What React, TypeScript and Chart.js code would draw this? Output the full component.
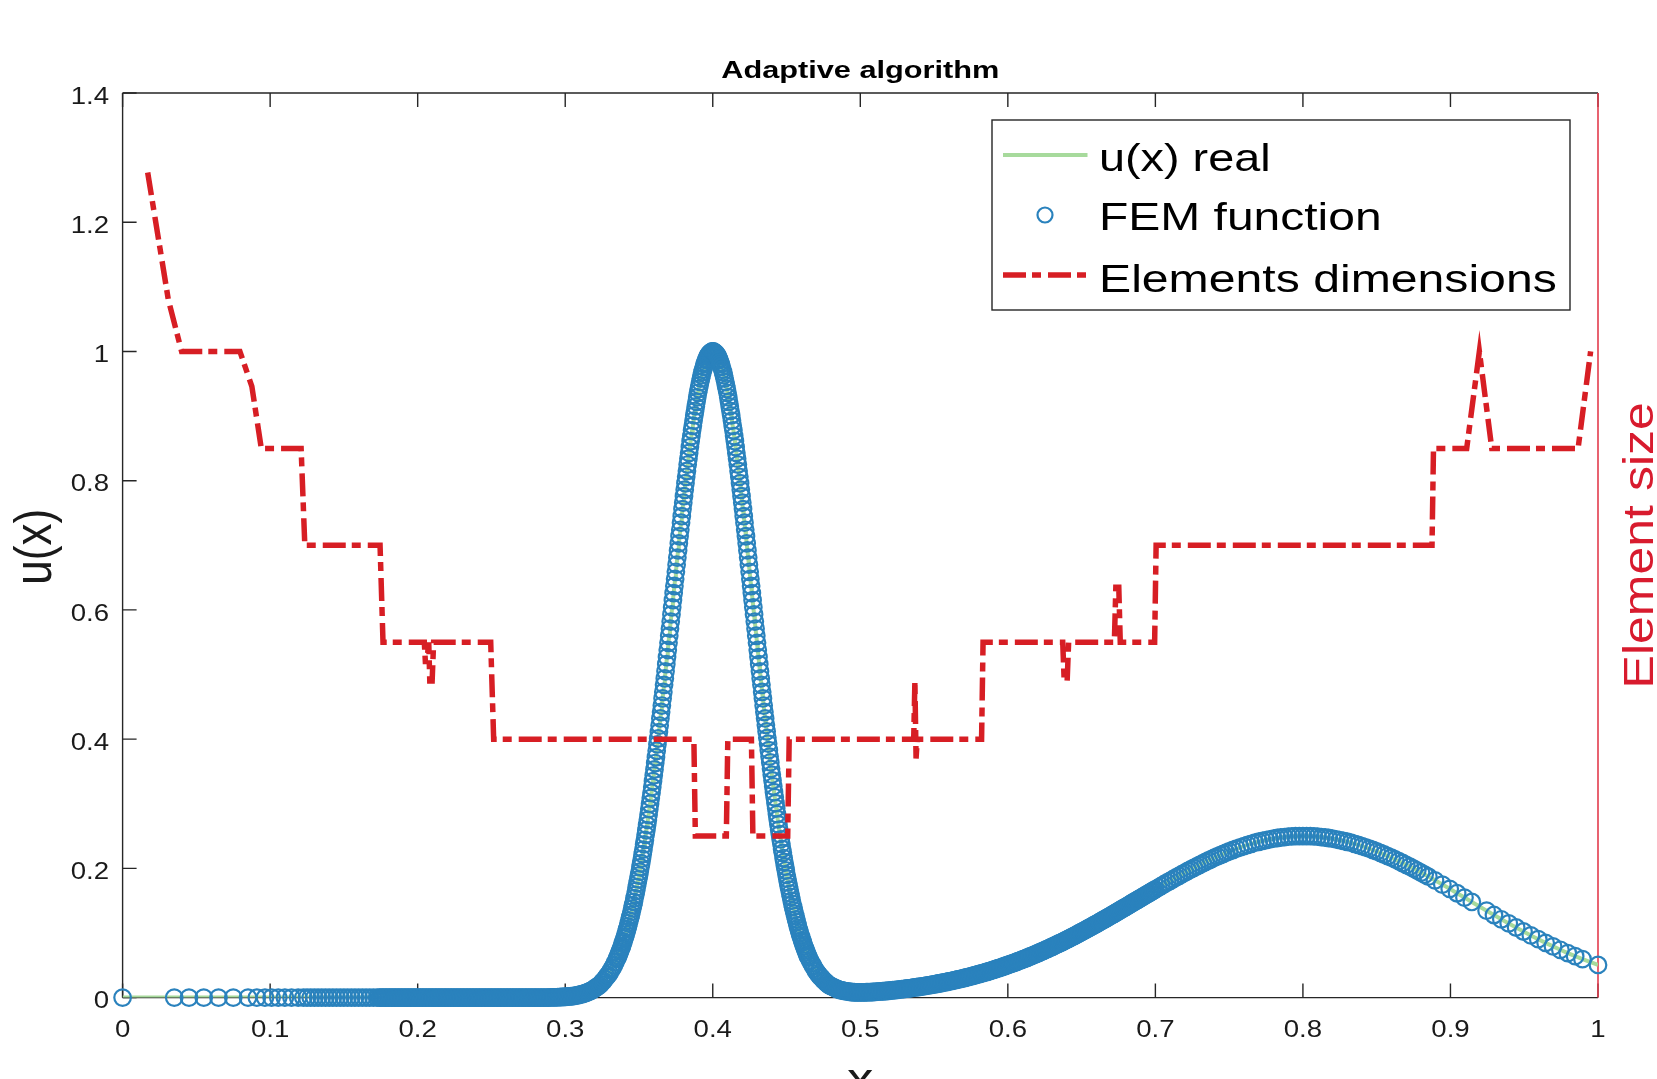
import React, { useEffect, useRef } from "react";
import { Chart, registerables } from "chart.js";

Chart.register(...registerables);

// ---------------- data ----------------
const xTickValues = [0, 0.1, 0.2, 0.3, 0.4, 0.5, 0.6, 0.7, 0.8, 0.9, 1];
const xTickLabels = ["0", "0.1", "0.2", "0.3", "0.4", "0.5", "0.6", "0.7", "0.8", "0.9", "1"];
const yTickValues = [0, 0.2, 0.4, 0.6, 0.8, 1, 1.2, 1.4];
const yTickLabels = ["0", "0.2", "0.4", "0.6", "0.8", "1", "1.2", "1.4"];

const chartTitle = "Adaptive algorithm";
const xAxisLabel = "x";
const yAxisLabel = "u(x)";
const y2AxisLabel = "Element size";
const seriesNames = ["u(x) real", "FEM function", "Elements dimensions"];

// FEM nodes and values: flat left part
const femLeft: number[][] = [
  [0, 0], [0.035, 0], [0.045, 0], [0.055, 0], [0.065, 0], [0.075, 0], [0.085, 0],
  [0.091, 0], [0.0965, 0], [0.101, 0], [0.1055, 0], [0.11, 0], [0.1145, 0], [0.119, 0],
  [0.1225, 0], [0.125, 0], [0.1275, 0], [0.13, 0], [0.1325, 0], [0.135, 0], [0.1375, 0],
  [0.14, 0], [0.1425, 0], [0.145, 0], [0.1475, 0], [0.15, 0], [0.1525, 0], [0.155, 0],
  [0.1575, 0], [0.16, 0], [0.1625, 0], [0.165, 0], [0.1675, 0], [0.17, 0], [0.1725, 0],
  [0.174, 0], [0.175, 0], [0.176, 0], [0.177, 0], [0.178, 0], [0.179, 0], [0.18, 0], [0.181, 0], [0.182, 0], [0.183, 0],
  [0.184, 0], [0.185, 0], [0.186, 0], [0.187, 0], [0.188, 0], [0.189, 0], [0.19, 0], [0.191, 0], [0.192, 0], [0.193, 0],
  [0.194, 0], [0.195, 0], [0.196, 0], [0.197, 0], [0.198, 0], [0.199, 0], [0.2, 0], [0.201, 0], [0.202, 0], [0.203, 0],
  [0.204, 0], [0.205, 0], [0.206, 0], [0.207, 0], [0.208, 0], [0.209, 0], [0.21, 0], [0.211, 0], [0.212, 0], [0.213, 0],
  [0.214, 0], [0.215, 0], [0.216, 0], [0.217, 0], [0.218, 0], [0.219, 0], [0.22, 0], [0.221, 0], [0.222, 0], [0.223, 0],
  [0.224, 0], [0.225, 0], [0.226, 0], [0.227, 0], [0.228, 0], [0.229, 0], [0.23, 0], [0.231, 0], [0.232, 0], [0.233, 0],
  [0.234, 0], [0.235, 0], [0.236, 0], [0.237, 0], [0.238, 0], [0.239, 0], [0.24, 0], [0.241, 0], [0.242, 0], [0.243, 0],
  [0.244, 0], [0.245, 0], [0.246, 0], [0.247, 0], [0.248, 0], [0.249, 0], [0.25, 0], [0.251, 0], [0.252, 0], [0.253, 0],
  [0.254, 0], [0.255, 0], [0.256, 0], [0.257, 0], [0.258, 0], [0.259, 0], [0.26, 0], [0.261, 0], [0.262, 0], [0.263, 0],
  [0.264, 0], [0.265, 0], [0.266, 0], [0.267, 0], [0.268, 0], [0.269, 0], [0.27, 0], [0.271, 0], [0.272, 0], [0.273, 0],
  [0.274, 0], [0.275, 0], [0.276, 0], [0.277, 0], [0.278, 0], [0.279, 0], [0.28, 0], [0.281, 0], [0.282, 0], [0.283, 0],
  [0.284, 0], [0.285, 0], [0.286, 0], [0.287, 0], [0.288, 0], [0.289, 0],
  [0.29, 0.0003], [0.291, 0.0004], [0.292, 0.0004], [0.293, 0.0005], [0.294, 0.0005],
  [0.295, 0.0006], [0.296, 0.0008], [0.297, 0.0009], [0.298, 0.001], [0.299, 0.0011],
  [0.3, 0.0013], [0.301, 0.0015], [0.302, 0.0017], [0.303, 0.0019], [0.304, 0.0021],
  [0.305, 0.0024], [0.306, 0.0028], [0.307, 0.0031], [0.308, 0.0035], [0.309, 0.004],
  [0.31, 0.0045], [0.311, 0.0051], [0.312, 0.0057], [0.313, 0.0064], [0.314, 0.0072],
  [0.315, 0.0081], [0.316, 0.0091], [0.317, 0.0101], [0.318, 0.0113], [0.319, 0.0126],
];

// FEM nodes and values: the sharp peak near x = 0.4
const femPeak: number[][] = [
  [0.32, 0.014], [0.321, 0.016], [0.322, 0.017], [0.323, 0.019], [0.324, 0.021],
  [0.325, 0.024], [0.326, 0.026], [0.327, 0.029], [0.328, 0.032], [0.329, 0.035],
  [0.33, 0.038], [0.331, 0.042], [0.332, 0.046], [0.333, 0.05], [0.334, 0.055],
  [0.335, 0.06], [0.3355, 0.062], [0.336, 0.065], [0.3365, 0.068], [0.337, 0.071],
  [0.3375, 0.074], [0.338, 0.077], [0.3385, 0.08], [0.339, 0.084], [0.3395, 0.087],
  [0.34, 0.091], [0.3405, 0.094], [0.341, 0.098], [0.3415, 0.102], [0.342, 0.106],
  [0.3425, 0.11], [0.343, 0.115], [0.3435, 0.119], [0.344, 0.124], [0.3445, 0.128],
  [0.345, 0.133], [0.3455, 0.138], [0.346, 0.143], [0.3465, 0.148], [0.347, 0.154],
  [0.3475, 0.159], [0.348, 0.165], [0.3485, 0.171], [0.349, 0.177], [0.3495, 0.183],
  [0.35, 0.189], [0.3505, 0.195], [0.351, 0.202], [0.3515, 0.208], [0.352, 0.215],
  [0.3525, 0.222], [0.353, 0.229], [0.3535, 0.237], [0.354, 0.244], [0.3545, 0.252],
  [0.355, 0.259], [0.3555, 0.267], [0.356, 0.275], [0.3565, 0.283], [0.357, 0.292],
  [0.3575, 0.3], [0.358, 0.309], [0.3585, 0.317], [0.359, 0.326], [0.3595, 0.335],
  [0.36, 0.344], [0.3605, 0.353], [0.361, 0.363], [0.3615, 0.372], [0.362, 0.382],
  [0.3625, 0.392], [0.363, 0.401], [0.3635, 0.411], [0.364, 0.421], [0.3645, 0.432],
  [0.365, 0.442], [0.3655, 0.452], [0.366, 0.463], [0.3665, 0.473], [0.367, 0.484],
  [0.3675, 0.494], [0.368, 0.505], [0.3685, 0.516], [0.369, 0.527], [0.3695, 0.538],
  [0.37, 0.549], [0.3705, 0.56], [0.371, 0.571], [0.3715, 0.582], [0.372, 0.593],
  [0.3725, 0.604], [0.373, 0.615], [0.3735, 0.626], [0.374, 0.637], [0.3745, 0.648],
  [0.375, 0.659], [0.3755, 0.67], [0.376, 0.681], [0.3765, 0.692], [0.377, 0.703],
  [0.3775, 0.714], [0.378, 0.724], [0.3785, 0.735], [0.379, 0.745], [0.3795, 0.756],
  [0.38, 0.766], [0.3805, 0.776], [0.381, 0.786], [0.3815, 0.796], [0.382, 0.806],
  [0.3825, 0.815], [0.383, 0.825], [0.3835, 0.834], [0.384, 0.843], [0.3845, 0.852],
  [0.385, 0.861], [0.3855, 0.869], [0.386, 0.878], [0.3865, 0.885], [0.387, 0.893],
  [0.3875, 0.901], [0.388, 0.908], [0.3885, 0.915], [0.389, 0.922], [0.3895, 0.929],
  [0.39, 0.936], [0.3905, 0.942], [0.391, 0.947], [0.3915, 0.953], [0.392, 0.958],
  [0.3925, 0.963], [0.393, 0.968], [0.3935, 0.972], [0.394, 0.976], [0.3945, 0.98],
  [0.395, 0.983], [0.3955, 0.987], [0.396, 0.989], [0.3965, 0.992], [0.397, 0.994],
  [0.3975, 0.996], [0.398, 0.997], [0.3985, 0.998], [0.399, 0.999], [0.3995, 1.0],
  [0.4, 1.0],
  [0.4005, 1.0], [0.401, 0.999], [0.4015, 0.998], [0.402, 0.997], [0.4025, 0.996],
  [0.403, 0.994], [0.4035, 0.992], [0.404, 0.989], [0.4045, 0.987], [0.405, 0.983],
  [0.4055, 0.98], [0.406, 0.976], [0.4065, 0.972], [0.407, 0.968], [0.4075, 0.963],
  [0.408, 0.958], [0.4085, 0.953], [0.409, 0.947], [0.4095, 0.942], [0.41, 0.936],
  [0.4105, 0.929], [0.411, 0.922], [0.4115, 0.915], [0.412, 0.908], [0.4125, 0.901],
  [0.413, 0.893], [0.4135, 0.885], [0.414, 0.878], [0.4145, 0.869], [0.415, 0.861],
  [0.4155, 0.852], [0.416, 0.843], [0.4165, 0.834], [0.417, 0.825], [0.4175, 0.815],
  [0.418, 0.806], [0.4185, 0.796], [0.419, 0.786], [0.4195, 0.776], [0.42, 0.766],
  [0.4205, 0.756], [0.421, 0.745], [0.4215, 0.735], [0.422, 0.724], [0.4225, 0.714],
  [0.423, 0.703], [0.4235, 0.692], [0.424, 0.681], [0.4245, 0.67], [0.425, 0.659],
  [0.4255, 0.648], [0.426, 0.637], [0.4265, 0.626], [0.427, 0.615], [0.4275, 0.604],
  [0.428, 0.593], [0.4285, 0.582], [0.429, 0.571], [0.4295, 0.56], [0.43, 0.549],
  [0.4305, 0.538], [0.431, 0.527], [0.4315, 0.516], [0.432, 0.505], [0.4325, 0.494],
  [0.433, 0.484], [0.4335, 0.473], [0.434, 0.463], [0.4345, 0.452], [0.435, 0.442],
  [0.4355, 0.432], [0.436, 0.422], [0.4365, 0.412], [0.437, 0.402], [0.4375, 0.393],
  [0.438, 0.383], [0.4385, 0.373], [0.439, 0.364], [0.4395, 0.354], [0.44, 0.345],
  [0.4405, 0.336], [0.441, 0.327], [0.4415, 0.318], [0.442, 0.31], [0.4425, 0.301],
  [0.443, 0.293], [0.4435, 0.284], [0.444, 0.276], [0.4445, 0.268], [0.445, 0.26],
  [0.4455, 0.253], [0.446, 0.245], [0.4465, 0.238], [0.447, 0.23], [0.4475, 0.224],
  [0.448, 0.216], [0.4485, 0.21], [0.449, 0.203], [0.4495, 0.197], [0.45, 0.19],
  [0.4505, 0.184], [0.451, 0.178], [0.4515, 0.172], [0.452, 0.167], [0.4525, 0.161],
  [0.453, 0.156], [0.4535, 0.15], [0.454, 0.145], [0.4545, 0.14], [0.455, 0.135],
  [0.4555, 0.13], [0.456, 0.126], [0.4565, 0.121], [0.457, 0.117], [0.4575, 0.112],
  [0.458, 0.108], [0.4585, 0.104], [0.459, 0.1], [0.4595, 0.096], [0.46, 0.093],
  [0.4605, 0.089], [0.461, 0.086], [0.4615, 0.082], [0.462, 0.079], [0.4625, 0.076],
  [0.463, 0.073], [0.4635, 0.07], [0.464, 0.067], [0.4645, 0.064], [0.465, 0.062],
  [0.466, 0.057], [0.467, 0.053], [0.468, 0.049], [0.469, 0.045], [0.47, 0.041],
  [0.471, 0.038], [0.472, 0.035], [0.473, 0.032], [0.474, 0.03], [0.475, 0.027],
  [0.476, 0.025], [0.477, 0.023], [0.478, 0.021], [0.479, 0.019], [0.48, 0.018],
];

// FEM nodes and values: slow rise towards the second bump
const femRise: number[][] = [
  [0.481, 0.0169], [0.482, 0.0157], [0.483, 0.0147], [0.484, 0.0137], [0.485, 0.0128],
  [0.486, 0.012], [0.487, 0.0114], [0.488, 0.0108], [0.489, 0.0103], [0.49, 0.0099],
  [0.491, 0.0095], [0.492, 0.0091], [0.493, 0.0089], [0.494, 0.0087], [0.495, 0.0085],
  [0.496, 0.0083], [0.497, 0.0082], [0.498, 0.0082], [0.499, 0.0081], [0.5, 0.0081],
  [0.501, 0.0081], [0.502, 0.0082], [0.503, 0.0082], [0.504, 0.0083], [0.505, 0.0084],
  [0.506, 0.0085], [0.507, 0.0086], [0.508, 0.0087], [0.509, 0.0088], [0.51, 0.009],
  [0.511, 0.0091], [0.512, 0.0093], [0.513, 0.0095], [0.514, 0.0097], [0.515, 0.0098],
  [0.516, 0.01], [0.517, 0.0102], [0.518, 0.0104], [0.519, 0.0106], [0.52, 0.0109],
  [0.521, 0.0111], [0.522, 0.0114], [0.523, 0.0116], [0.524, 0.0119], [0.525, 0.0121],
  [0.526, 0.0124], [0.527, 0.0127], [0.528, 0.013], [0.529, 0.0132], [0.53, 0.0135],
  [0.531, 0.0138], [0.532, 0.0141], [0.533, 0.0144], [0.534, 0.0148], [0.535, 0.0151],
  [0.536, 0.0154], [0.537, 0.0157], [0.538, 0.0161], [0.539, 0.0164], [0.54, 0.0167],
  [0.541, 0.017], [0.542, 0.0174], [0.543, 0.0178], [0.544, 0.0182], [0.545, 0.0185],
  [0.546, 0.0189], [0.547, 0.0193], [0.548, 0.0197], [0.549, 0.0201], [0.55, 0.0205],
  [0.551, 0.0209], [0.552, 0.0214], [0.553, 0.0218], [0.554, 0.0222], [0.555, 0.0226],
  [0.556, 0.0231], [0.557, 0.0235], [0.558, 0.024], [0.559, 0.0245], [0.56, 0.025],
  [0.561, 0.0254], [0.562, 0.0259], [0.563, 0.0264], [0.564, 0.0269], [0.565, 0.0274],
  [0.566, 0.028], [0.567, 0.0285], [0.568, 0.029], [0.569, 0.0295], [0.57, 0.0301],
  [0.571, 0.0307], [0.572, 0.0313], [0.573, 0.0318], [0.574, 0.0324], [0.575, 0.033],
  [0.576, 0.0336], [0.577, 0.0342], [0.578, 0.0348], [0.579, 0.0354], [0.58, 0.0361],
  [0.581, 0.0367], [0.582, 0.0374], [0.583, 0.038], [0.584, 0.0387], [0.585, 0.0393],
  [0.586, 0.04], [0.587, 0.0407], [0.588, 0.0414], [0.589, 0.0421], [0.59, 0.0428],
  [0.591, 0.0435], [0.592, 0.0443], [0.593, 0.045], [0.594, 0.0458], [0.595, 0.0465],
  [0.596, 0.0473], [0.597, 0.0481], [0.598, 0.0489], [0.599, 0.0497], [0.6, 0.0505],
  [0.601, 0.0513], [0.602, 0.0521], [0.603, 0.0529], [0.604, 0.0538], [0.605, 0.0546],
  [0.606, 0.0555], [0.607, 0.0563], [0.608, 0.0572], [0.609, 0.0581], [0.61, 0.059],
  [0.611, 0.0599], [0.612, 0.0608], [0.613, 0.0617], [0.614, 0.0627], [0.615, 0.0636],
  [0.616, 0.0646], [0.617, 0.0655], [0.618, 0.0665], [0.619, 0.0674], [0.62, 0.0684],
  [0.621, 0.0694], [0.622, 0.0704], [0.623, 0.0714], [0.624, 0.0724], [0.625, 0.0734],
  [0.626, 0.0745], [0.627, 0.0755], [0.628, 0.0766], [0.629, 0.0776], [0.63, 0.0787],
  [0.631, 0.0797], [0.632, 0.0808], [0.633, 0.0819], [0.634, 0.0831], [0.635, 0.0841],
  [0.636, 0.0852], [0.637, 0.0863], [0.638, 0.0875], [0.639, 0.0886], [0.64, 0.0898],
  [0.641, 0.0909], [0.642, 0.0921], [0.643, 0.0933], [0.644, 0.0945], [0.645, 0.0956],
  [0.646, 0.0968], [0.647, 0.098], [0.648, 0.0992], [0.649, 0.1004], [0.65, 0.1016],
  [0.651, 0.1028], [0.652, 0.1041], [0.653, 0.1053], [0.654, 0.1066], [0.655, 0.1078],
  [0.656, 0.1091], [0.657, 0.1103], [0.658, 0.1116], [0.659, 0.1129], [0.66, 0.1142],
  [0.661, 0.1154], [0.662, 0.1167], [0.663, 0.118], [0.664, 0.1193], [0.665, 0.1206],
  [0.666, 0.1219], [0.667, 0.1232], [0.668, 0.1245], [0.669, 0.1258], [0.67, 0.1272],
  [0.671, 0.1285], [0.672, 0.1298], [0.673, 0.1311], [0.674, 0.1325], [0.675, 0.1338],
  [0.676, 0.1352], [0.677, 0.1365], [0.678, 0.1379], [0.679, 0.1392], [0.68, 0.1405],
  [0.681, 0.1418], [0.682, 0.1432], [0.683, 0.1446], [0.684, 0.146], [0.685, 0.1473],
  [0.686, 0.1487], [0.687, 0.15], [0.688, 0.1514], [0.689, 0.1527], [0.69, 0.1541],
  [0.691, 0.1554], [0.692, 0.1568], [0.693, 0.1581], [0.694, 0.1595], [0.695, 0.1608],
  [0.696, 0.1622], [0.697, 0.1635], [0.698, 0.1649], [0.699, 0.1662], [0.7, 0.1676],
  [0.702, 0.1703], [0.704, 0.1729], [0.706, 0.1756], [0.708, 0.1782], [0.71, 0.1808],
  [0.712, 0.1834], [0.714, 0.186], [0.716, 0.1885], [0.718, 0.191], [0.72, 0.1935],
  [0.722, 0.196], [0.724, 0.1984], [0.726, 0.2008], [0.728, 0.2032], [0.73, 0.2055],
  [0.732, 0.2078], [0.734, 0.21], [0.736, 0.2122], [0.738, 0.2144], [0.74, 0.2165],
  [0.742, 0.2185], [0.744, 0.2205], [0.746, 0.2225], [0.748, 0.2244], [0.75, 0.2262],
];

// FEM nodes and values: crest of the second bump
const femCrest: number[][] = [
  [0.7525, 0.2284], [0.755, 0.2306], [0.7575, 0.2326], [0.76, 0.2345], [0.7625, 0.2363],
  [0.765, 0.238], [0.7675, 0.2397], [0.77, 0.2412], [0.7725, 0.2425], [0.775, 0.2438],
  [0.7775, 0.245], [0.78, 0.246], [0.7825, 0.247], [0.785, 0.2478], [0.7875, 0.2484],
  [0.79, 0.249], [0.7925, 0.2494], [0.795, 0.2498], [0.7975, 0.2499], [0.8, 0.25],
  [0.8025, 0.2499], [0.805, 0.2498], [0.8075, 0.2494], [0.81, 0.249], [0.8125, 0.2484],
  [0.815, 0.2478], [0.8175, 0.247], [0.82, 0.246], [0.8225, 0.245], [0.825, 0.2438],
  [0.8275, 0.2425], [0.83, 0.2412], [0.8325, 0.2397], [0.835, 0.238], [0.8375, 0.2363],
  [0.84, 0.2345], [0.8425, 0.2326], [0.845, 0.2306], [0.8475, 0.2284], [0.85, 0.2262],
  [0.8525, 0.2239], [0.855, 0.2215], [0.8575, 0.219], [0.86, 0.2165], [0.8625, 0.2138],
  [0.865, 0.2111], [0.8675, 0.2083], [0.87, 0.2055], [0.8725, 0.2026], [0.875, 0.1996],
  [0.8775, 0.1966], [0.88, 0.1935], [0.8825, 0.1904], [0.885, 0.1873],
];

// FEM nodes and values: coarse tail up to x = 1
const femTail: number[][] = [
  [0.8895, 0.1815], [0.8945, 0.1749], [0.8995, 0.1683], [0.9045, 0.1615], [0.9095, 0.1548],
  [0.9145, 0.148], [0.9245, 0.1345], [0.9295, 0.1278], [0.9345, 0.1212], [0.9395, 0.1148],
  [0.9445, 0.1085], [0.9495, 0.1023], [0.9545, 0.0962], [0.9595, 0.0904], [0.9645, 0.0847],
  [0.9695, 0.0792], [0.9745, 0.074], [0.9795, 0.0689], [0.9845, 0.0641], [0.9895, 0.0595],
  [1.0, 0.0505],
];

// Element dimensions (dash-dot red curve)
const elemDims: number[][] = [
  [0.017, 1.277], [0.031, 1.08], [0.04, 1.0], [0.0795, 1.0], [0.0876, 0.946], [0.094, 0.85],
  [0.121, 0.85], [0.1235, 0.7], [0.1745, 0.7], [0.1765, 0.55], [0.2045, 0.55], [0.2052, 0.52],
  [0.2062, 0.52], [0.2075, 0.55], [0.2082, 0.49], [0.2098, 0.49], [0.2108, 0.55],
  [0.2495, 0.55], [0.2515, 0.4], [0.3872, 0.4], [0.3882, 0.25], [0.4092, 0.25],
  [0.4102, 0.4], [0.4262, 0.4], [0.4272, 0.25], [0.4508, 0.25], [0.4518, 0.4],
  [0.5362, 0.4], [0.537, 0.49], [0.5378, 0.37], [0.5386, 0.4], [0.5822, 0.4],
  [0.5832, 0.55], [0.6372, 0.55], [0.6382, 0.49], [0.6402, 0.49], [0.6412, 0.55],
  [0.6722, 0.55], [0.6732, 0.635], [0.6752, 0.635], [0.6762, 0.55], [0.6995, 0.55],
  [0.7005, 0.7], [0.8875, 0.7], [0.8885, 0.85], [0.911, 0.85], [0.9196, 1.0],
  [0.928, 0.85], [0.9865, 0.85], [0.995, 1.0],
];

// ---------------- styling ----------------
const W = 1700;
const H = 1120;
const FONT = '"Liberation Sans", Arial, Helvetica, sans-serif';
const GREEN = "#a7da9c";
const BLUE = "#2a82bd";
const RED = "#d71e24";
const RED_AXIS = "#e33b4d";
const RED_LABEL = "#d81b2e";
const AXIS = "#262626";
const DASH = [23, 6, 9, 7];
const TICK_LEN = 14;

type TxtOpt = {
  size: number;
  sx: number;
  color?: string;
  bold?: boolean;
  align?: CanvasTextAlign;
  rot?: number;
};

function drawText(ctx: CanvasRenderingContext2D, text: string, x: number, y: number, o: TxtOpt) {
  ctx.save();
  ctx.translate(x, y);
  ctx.scale(o.sx, 1);
  if (o.rot) ctx.rotate(o.rot);
  ctx.font = `${o.bold ? "bold " : ""}${o.size}px ${FONT}`;
  ctx.fillStyle = o.color || "#000";
  ctx.textAlign = o.align || "left";
  ctx.textBaseline = "alphabetic";
  ctx.fillText(text, 0, 0);
  ctx.restore();
}

const framePlugin = {
  id: "matlabFrame",
  beforeDatasetsDraw(chart: any) {
    const { ctx, chartArea: a, scales } = chart;
    ctx.save();
    ctx.strokeStyle = AXIS;
    ctx.lineWidth = 1.4;
    ctx.beginPath();
    ctx.moveTo(a.left, a.top);
    ctx.lineTo(a.right, a.top);
    ctx.moveTo(a.left, a.top);
    ctx.lineTo(a.left, a.bottom);
    ctx.moveTo(a.left, a.bottom);
    ctx.lineTo(a.right, a.bottom);
    ctx.stroke();
    ctx.beginPath();
    for (const t of scales.x.ticks) {
      const px = scales.x.getPixelForValue(t.value);
      ctx.moveTo(px, a.bottom);
      ctx.lineTo(px, a.bottom - TICK_LEN);
      ctx.moveTo(px, a.top);
      ctx.lineTo(px, a.top + TICK_LEN);
    }
    for (const t of scales.y.ticks) {
      const py = scales.y.getPixelForValue(t.value);
      ctx.moveTo(a.left, py);
      ctx.lineTo(a.left + TICK_LEN, py);
    }
    ctx.stroke();
    ctx.strokeStyle = RED_AXIS;
    ctx.lineWidth = 1.6;
    ctx.beginPath();
    ctx.moveTo(a.right, a.top);
    ctx.lineTo(a.right, a.bottom);
    ctx.stroke();
    ctx.restore();
  },
};

const textPlugin = {
  id: "matlabText",
  afterDraw(chart: any) {
    const { ctx, chartArea: a, scales } = chart;
    const cx = (a.left + a.right) / 2;
    const cy = (a.top + a.bottom) / 2;
    scales.x.ticks.forEach((t: any, i: number) => {
      drawText(ctx, xTickLabels[i], scales.x.getPixelForValue(t.value), a.bottom + 39.5, {
        size: 23, sx: 1.2, align: "center", color: "#1a1a1a",
      });
    });
    scales.y.ticks.forEach((t: any, i: number) => {
      drawText(ctx, yTickLabels[i], a.left - 13.5, scales.y.getPixelForValue(t.value) + 10.8, {
        size: 23, sx: 1.2, align: "right", color: "#1a1a1a",
      });
    });
    drawText(ctx, chartTitle, cx, a.top - 14.7, { size: 24, sx: 1.28, bold: true, align: "center" });
    drawText(ctx, xAxisLabel, cx, a.bottom + 96, { size: 44, sx: 1.2, align: "center", color: "#1a1a1a" });
    drawText(ctx, yAxisLabel, a.left - 71.6, cy + 1.5, {
      size: 44, sx: 1.17, align: "center", rot: -Math.PI / 2, color: "#1a1a1a",
    });
    drawText(ctx, y2AxisLabel, a.right + 55, cy, {
      size: 50, sx: 0.84, align: "center", rot: -Math.PI / 2, color: RED_LABEL,
    });

    // legend
    const ds = chart.data.datasets;
    const bx = 992, by = 120, bw = 578, bh = 190;
    ctx.save();
    ctx.fillStyle = "#fff";
    ctx.fillRect(bx, by, bw, bh);
    ctx.strokeStyle = AXIS;
    ctx.lineWidth = 1.4;
    ctx.strokeRect(bx, by, bw, bh);
    ctx.strokeStyle = ds[0].borderColor;
    ctx.lineWidth = ds[0].borderWidth;
    ctx.beginPath();
    ctx.moveTo(1003, 155);
    ctx.lineTo(1087.5, 155);
    ctx.stroke();
    ctx.strokeStyle = ds[1].pointBorderColor;
    ctx.lineWidth = ds[1].pointBorderWidth;
    ctx.beginPath();
    ctx.arc(1045, 215, 7.5, 0, Math.PI * 2);
    ctx.stroke();
    ctx.strokeStyle = ds[2].borderColor;
    ctx.lineWidth = ds[2].borderWidth;
    ctx.setLineDash(ds[2].borderDash);
    ctx.beginPath();
    ctx.moveTo(1003, 275);
    ctx.lineTo(1087.5, 275);
    ctx.stroke();
    ctx.setLineDash([]);
    ctx.restore();
    const lx = 1099;
    drawText(ctx, seriesNames[0], lx, 171, { size: 39, sx: 1.2 });
    drawText(ctx, seriesNames[1], lx, 229.5, { size: 39, sx: 1.23 });
    drawText(ctx, seriesNames[2], lx, 291.7, { size: 39, sx: 1.235 });
  },
};

const toPts = (arr: number[][]) => arr.map(([x, y]) => ({ x, y }));

export default function App() {
  const ref = useRef<HTMLCanvasElement | null>(null);

  useEffect(() => {
    if (!ref.current) return;
    const fem = [...femLeft, ...femPeak, ...femRise, ...femCrest, ...femTail];
    const chart = new Chart(ref.current, {
      type: "scatter",
      data: {
        datasets: [
          {
            label: seriesNames[0],
            data: toPts(fem),
            showLine: true,
            borderColor: GREEN,
            backgroundColor: GREEN,
            borderWidth: 4,
            pointRadius: 0,
            pointHoverRadius: 0,
            tension: 0,
            order: 3,
            yAxisID: "y",
          },
          {
            label: seriesNames[1],
            data: toPts(fem),
            showLine: false,
            pointStyle: "circle",
            pointRadius: 8.3,
            pointHoverRadius: 8.3,
            pointBorderWidth: 2.2,
            pointBorderColor: BLUE,
            borderColor: BLUE,
            pointBackgroundColor: "rgba(0,0,0,0)",
            backgroundColor: "rgba(0,0,0,0)",
            clip: false,
            order: 2,
            yAxisID: "y",
          },
          {
            label: seriesNames[2],
            data: toPts(elemDims),
            showLine: true,
            borderColor: RED,
            backgroundColor: RED,
            borderWidth: 5.5,
            borderDash: DASH,
            borderCapStyle: "butt",
            borderJoinStyle: "miter",
            pointRadius: 0,
            pointHoverRadius: 0,
            tension: 0,
            order: 1,
            yAxisID: "y2",
          },
        ],
      } as any,
      options: {
        responsive: false,
        animation: false,
        devicePixelRatio: 1,
        events: [],
        layout: { padding: { top: 93, left: 0, right: 0, bottom: 0 } },
        plugins: {
          legend: { display: false },
          title: { display: false },
          tooltip: { enabled: false },
        },
        scales: {
          x: {
            type: "linear",
            position: "bottom",
            min: 0,
            max: 1,
            grid: { display: false },
            border: { display: false },
            ticks: { display: false },
            afterBuildTicks: (s: any) => {
              s.ticks = xTickValues.map((v) => ({ value: v }));
            },
            afterFit: (s: any) => {
              s.height = H - 997.6;
            },
          },
          y: {
            type: "linear",
            position: "left",
            min: 0,
            max: 1.4,
            grid: { display: false },
            border: { display: false },
            ticks: { display: false },
            afterBuildTicks: (s: any) => {
              s.ticks = yTickValues.map((v) => ({ value: v }));
            },
            afterFit: (s: any) => {
              s.width = 122.6;
            },
          },
          y2: {
            type: "linear",
            position: "right",
            min: 0,
            max: 1.4,
            grid: { display: false },
            border: { display: false },
            ticks: { display: false },
            afterFit: (s: any) => {
              s.width = W - 1598;
            },
          },
        },
      } as any,
      plugins: [framePlugin, textPlugin],
    });
    return () => chart.destroy();
  }, []);

  return (
    <div
      style={{
        position: "fixed",
        left: 0,
        top: 0,
        width: 1657,
        height: 1079,
        overflow: "hidden",
        background: "#fff",
      }}
    >
      <canvas ref={ref} width={W} height={H} style={{ display: "block", width: W, height: H }} />
    </div>
  );
}
